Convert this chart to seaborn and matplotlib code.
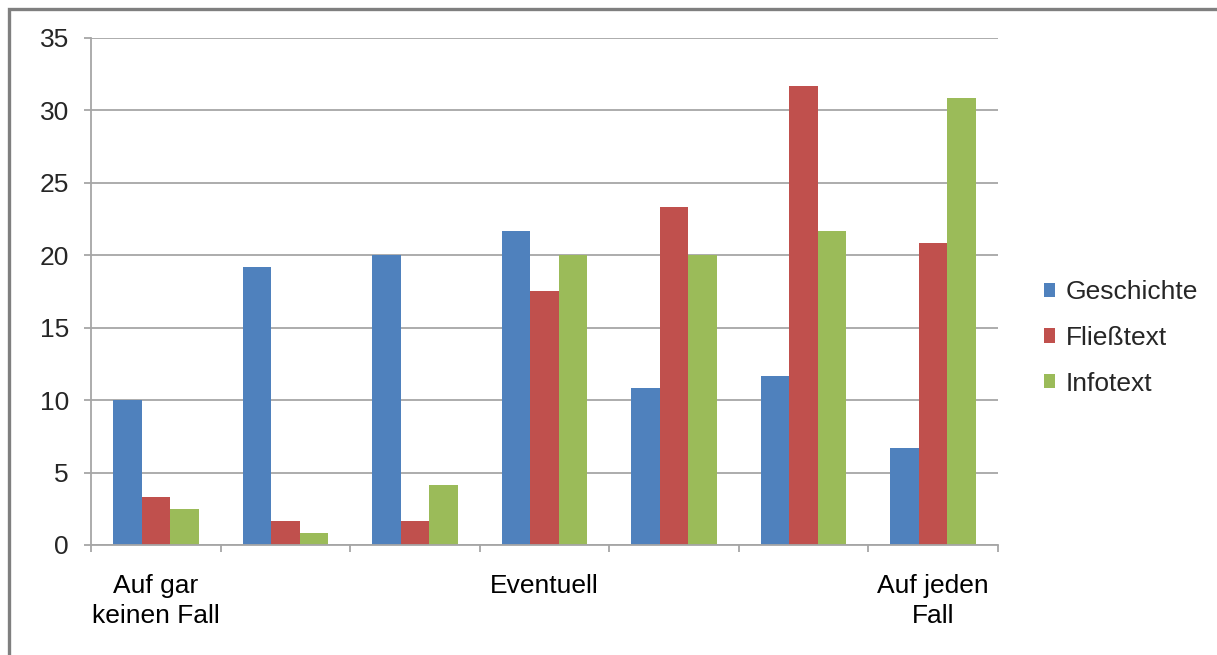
import matplotlib
matplotlib.use("Agg")
import matplotlib.pyplot as plt
from matplotlib.patches import Rectangle
import seaborn as sns
import pandas as pd

# Rating scale (only the anchors carry a label)
categories = ["1", "2", "3", "4", "5", "6", "7"]
tick_labels = ["Auf gar\nkeinen Fall", "", "", "Eventuell", "", "", "Auf jeden\nFall"]
series = ["Geschichte", "Fließtext", "Infotext"]

geschichte = [10.0, 19.17, 20.0, 21.67, 10.83, 11.67, 6.67]
fliesstext = [3.33, 1.67, 1.67, 17.5, 23.33, 31.67, 20.83]
infotext = [2.5, 0.83, 4.17, 20.0, 20.0, 21.67, 30.83]

colors = ["#4F81BD", "#C0504D", "#9BBB59"]

df = pd.DataFrame({
    "Kategorie": categories * 3,
    "Wert": geschichte + fliesstext + infotext,
    "Textart": [series[0]] * 7 + [series[1]] * 7 + [series[2]] * 7,
})

sns.set_theme(style="white")
plt.rcParams["font.family"] = ["Liberation Sans", "DejaVu Sans"]

fig = plt.figure(figsize=(12.17, 6.55), dpi=100)
ax = fig.add_axes([0.0748, 0.168, 0.7452, 0.774])

sns.barplot(data=df, x="Kategorie", y="Wert", hue="Textart",
            order=categories, hue_order=series, palette=colors,
            width=0.66, saturation=1, linewidth=0, ax=ax, legend=True)

ax.set_ylim(0, 35)
ax.set_xlim(-0.5, 6.5)
ax.set_yticks(range(0, 36, 5))
ax.set_xlabel("")
ax.set_ylabel("")

grid_col = "#A6A6A6"
ax.yaxis.grid(True, color=grid_col, linewidth=1.3)
ax.set_axisbelow(True)
for s in ["top", "right"]:
    ax.spines[s].set_visible(False)
for s in ["left", "bottom"]:
    ax.spines[s].set_color(grid_col)
    ax.spines[s].set_linewidth(1.3)

ax.set_xticks(range(7))
ax.set_xticklabels(tick_labels, fontsize=19, linespacing=1.3)
ax.set_xticks([i - 0.5 for i in range(8)], minor=True)
ax.tick_params(axis="x", which="major", length=0, pad=21, colors="black")
ax.tick_params(axis="x", which="minor", length=5, width=1.3, color=grid_col, bottom=True)
ax.tick_params(axis="y", length=5, width=1.3, color=grid_col, left=True, labelsize=19, pad=11)

leg = ax.legend(loc="center left", bbox_to_anchor=(0.838, 0.484),
                bbox_transform=fig.transFigure, frameon=False, fontsize=19,
                handlelength=0.45, handleheight=0.45, handletextpad=0.4,
                labelspacing=0.82)

# outer frame of the chart area
fig.patches.append(Rectangle((9 / 1217, -0.05), 1.2, 0.05 + 1 - 9 / 655,
                             transform=fig.transFigure, fill=False,
                             edgecolor="#7F7F7F", linewidth=2.4))

fig.savefig("out.png", dpi=100)
